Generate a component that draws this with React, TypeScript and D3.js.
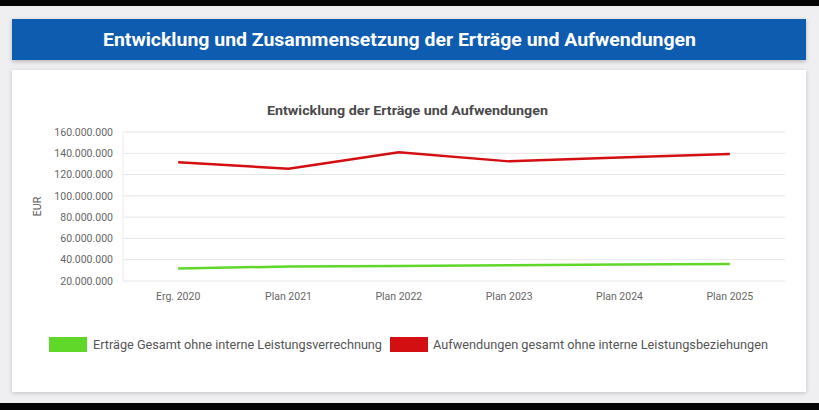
import React from "react";
import * as d3 from "d3";

const categories = ["Erg. 2020", "Plan 2021", "Plan 2022", "Plan 2023", "Plan 2024", "Plan 2025"];
const ertraege = [31700000, 33600000, 34100000, 34800000, 35400000, 36000000];
const aufwendungen = [131500000, 125500000, 141000000, 132400000, 136000000, 139300000];
const yTicks = [20000000, 40000000, 60000000, 80000000, 100000000, 120000000, 140000000, 160000000];
const seriesNames = [
  "Erträge Gesamt ohne interne Leistungsverrechnung",
  "Aufwendungen gesamt ohne interne Leistungsbeziehungen",
];
const seriesColors = ["#5fd82a", "#d30f12"];
const headerTitle = "Entwicklung und Zusammensetzung der Erträge und Aufwendungen";
const chartTitle = "Entwicklung der Erträge und Aufwendungen";
const yAxisTitle = "EUR";

const W = 819;
const H = 410;
const plot = { left: 123, right: 785, top: 132, bottom: 281 };

const fmt = (v: number) => d3.format(",")(v).replace(/,/g, ".");

export default function App() {
  const x = d3.scalePoint<string>().domain(categories).range([plot.left, plot.right]).padding(0.5);
  const y = d3.scaleLinear().domain([20000000, 160000000]).range([plot.bottom, plot.top]);
  const line = d3
    .line<number>()
    .x((_, i) => x(categories[i]) as number)
    .y((d) => y(d));
  const series = [ertraege, aufwendungen];
  const font = "Roboto, 'Liberation Sans', Arial, sans-serif";

  return (
    <svg
      width={W}
      height={H}
      style={{ position: "absolute", left: 0, top: 0, display: "block" }}
      fontFamily={font}
    >
      <defs>
        <filter id="sh" x="-5%" y="-20%" width="110%" height="150%">
          <feDropShadow dx="0" dy="1.5" stdDeviation="2" floodColor="#000" floodOpacity="0.25" />
        </filter>
        <filter id="sh2" x="-5%" y="-5%" width="110%" height="115%">
          <feDropShadow dx="0" dy="1" stdDeviation="2" floodColor="#000" floodOpacity="0.2" />
        </filter>
      </defs>
      <rect x={0} y={0} width={W} height={H} fill="#efeff1" />
      <rect x={0} y={0} width={W} height={6} fill="#050505" />
      <rect x={0} y={403} width={W} height={7} fill="#050505" />

      {/* header */}
      <rect x={12} y={19} width={794} height={41} fill="#0a5cb0" filter="url(#sh)" />
      <text
        x={399.5}
        y={46}
        textAnchor="middle"
        fill="#ffffff"
        fontSize={18}
        fontWeight="bold"
        textLength={593}
        lengthAdjust="spacingAndGlyphs"
      >
        {headerTitle}
      </text>

      {/* card */}
      <rect x={12} y={70} width={794} height={322} fill="#ffffff" filter="url(#sh2)" />

      <text
        x={407.5}
        y={110}
        dy="0.35em"
        textAnchor="middle"
        fontSize={13}
        fontWeight="bold"
        fill="#4a4a4a"
        textLength={281}
        lengthAdjust="spacingAndGlyphs"
      >
        {chartTitle}
      </text>

      {/* grid */}
      {yTicks.map((t) => (
        <g key={t}>
          <line x1={plot.left} x2={plot.right} y1={y(t)} y2={y(t)} stroke="#e6e6e6" strokeWidth={1} />
          <text x={113} y={y(t)} dy="0.35em" textAnchor="end" fontSize={10.5} fill="#666">
            {fmt(t)}
          </text>
        </g>
      ))}
      <line x1={plot.left} x2={plot.left} y1={plot.top} y2={plot.bottom} stroke="#ececec" />

      {categories.map((c) => (
        <text key={c} x={x(c) as number} y={300} textAnchor="middle" fontSize={10.5} fill="#666">
          {c}
        </text>
      ))}

      <text
        transform={`translate(41,${(plot.top + plot.bottom) / 2}) rotate(-90)`}
        textAnchor="middle"
        fontSize={10.5}
        fill="#555"
      >
        {yAxisTitle}
      </text>

      {series.map((s, i) => (
        <path
          key={i}
          d={line(s) as string}
          fill="none"
          stroke={seriesColors[i]}
          strokeWidth={2.5}
          strokeLinejoin="round"
        />
      ))}

      {/* legend */}
      <rect x={49} y={337} width={38} height={15} fill={seriesColors[0]} />
      <text
        x={93}
        y={344.5}
        dy="0.35em"
        fontSize={12}
        fill="#555"
        textLength={289}
        lengthAdjust="spacingAndGlyphs"
      >
        {seriesNames[0]}
      </text>
      <rect x={390} y={337} width={38} height={15} fill={seriesColors[1]} />
      <text
        x={433}
        y={344.5}
        dy="0.35em"
        fontSize={12}
        fill="#555"
        textLength={335}
        lengthAdjust="spacingAndGlyphs"
      >
        {seriesNames[1]}
      </text>
    </svg>
  );
}
